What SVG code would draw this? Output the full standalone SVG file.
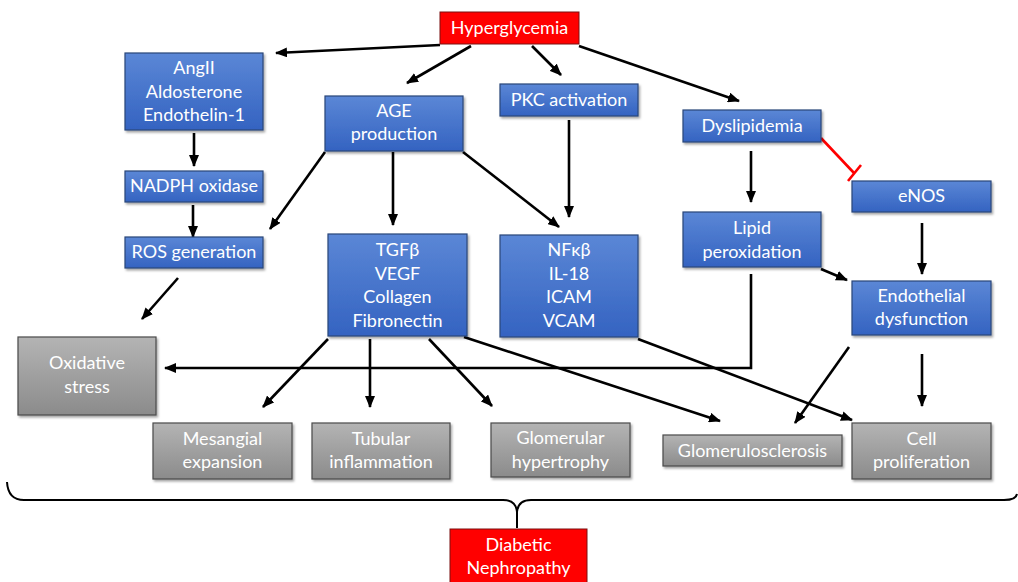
<svg xmlns="http://www.w3.org/2000/svg" width="1018" height="582" viewBox="0 0 1018 582">
<defs>
<linearGradient id="gb" x1="0" y1="0" x2="0" y2="1"><stop offset="0" stop-color="#5b87d6"/><stop offset="1" stop-color="#3463c1"/></linearGradient>
<linearGradient id="gg" x1="0" y1="0" x2="0" y2="1"><stop offset="0" stop-color="#b4b4b4"/><stop offset="1" stop-color="#8b8b8b"/></linearGradient>
<filter id="sh" x="-10%" y="-10%" width="130%" height="140%"><feDropShadow dx="1.5" dy="2" stdDeviation="1.2" flood-color="#000" flood-opacity="0.35"/></filter>
<marker id="ar" markerUnits="userSpaceOnUse" markerWidth="12" markerHeight="10" refX="11" refY="5" orient="auto"><path d="M0,0 L12,5 L0,10 z" fill="#000"/></marker>
</defs>
<style>
.b rect{fill:url(#gb);stroke:#2a4679;stroke-width:1.2;filter:url(#sh)}
.g rect{fill:url(#gg);stroke:#4a4a4a;stroke-width:1.2;filter:url(#sh)}
.r rect{fill:#ff0000;stroke:#7a1010;stroke-width:1}
text{font-family:Lato,"Open Sans","Liberation Sans",sans-serif;font-size:18px;fill:#fff;text-anchor:middle}
.c line,.c path{stroke:#000;stroke-width:2.6;fill:none;marker-end:url(#ar)}
.c .inh{stroke:#ff0000;marker-end:none}
.brace{stroke:#000;stroke-width:2;fill:none}
</style>
<rect width="1018" height="582" fill="#fff"/>
<g class="c" id="connectors">
<line x1="440" y1="45" x2="276" y2="53"/>
<line x1="471" y1="46" x2="407" y2="83"/>
<line x1="532" y1="46" x2="561" y2="75"/>
<line x1="579" y1="46" x2="739" y2="101"/>
<line x1="194" y1="133" x2="194" y2="166"/>
<line x1="193" y1="205" x2="193" y2="237"/>
<line x1="325" y1="152" x2="270" y2="229"/>
<line x1="393" y1="152" x2="393" y2="225"/>
<line x1="463" y1="152" x2="559" y2="227"/>
<line x1="569" y1="120" x2="569" y2="217"/>
<line x1="178" y1="278" x2="142" y2="319"/>
<line x1="751" y1="151" x2="751" y2="202"/>
<line x1="922" y1="223" x2="922" y2="274"/>
<line x1="821" y1="269" x2="847" y2="280"/>
<path d="M751,274 L751,368 L165,368"/>
<line x1="328" y1="339" x2="263" y2="407"/>
<line x1="370" y1="339" x2="370" y2="407"/>
<line x1="429" y1="339" x2="492" y2="406"/>
<line x1="464" y1="337" x2="720" y2="421"/>
<line x1="638" y1="339" x2="852" y2="420"/>
<line x1="849" y1="347" x2="795" y2="423"/>
<line x1="922" y1="354" x2="922" y2="406"/>
<line class="inh" x1="821" y1="138" x2="854" y2="173"/>
<line class="inh" x1="848" y1="181" x2="861" y2="165"/>
</g>
<path class="brace" d="M7,482 Q8,500 24,500 L503,500 Q516,500 517,512 Q518,500 531,500 L1004,500 Q1016,500 1017,494"/>
<line class="brace" x1="517" y1="510" x2="517" y2="528"/>
<g id="hyperglycemia" class="r"><rect x="440" y="12" width="139" height="32"/><text x="509.5" y="34">Hyperglycemia</text></g>
<g id="angii" class="b"><rect x="125" y="53" width="138" height="77"/><text x="194" y="74">AngII</text><text x="194" y="98">Aldosterone</text><text x="194" y="121">Endothelin-1</text></g>
<g id="nadph" class="b"><rect x="125" y="171" width="138" height="31"/><text x="194" y="192">NADPH oxidase</text></g>
<g id="ros" class="b"><rect x="125" y="237" width="138" height="31"/><text x="194" y="258">ROS generation</text></g>
<g id="age" class="b"><rect x="325" y="96" width="138" height="55"/><text x="394" y="117">AGE</text><text x="394" y="140">production</text></g>
<g id="pkc" class="b"><rect x="500" y="84" width="138" height="32"/><text x="569" y="106">PKC activation</text></g>
<g id="dyslipidemia" class="b"><rect x="683" y="110" width="138" height="32"/><text x="752" y="132">Dyslipidemia</text></g>
<g id="enos" class="b"><rect x="852" y="181" width="139" height="31"/><text x="921.5" y="202">eNOS</text></g>
<g id="lipid" class="b"><rect x="683" y="212" width="138" height="55"/><text x="752" y="234">Lipid</text><text x="752" y="258">peroxidation</text></g>
<g id="tgfb" class="b"><rect x="328" y="234" width="139" height="102"/><text x="397.5" y="256">TGFβ</text><text x="397.5" y="280">VEGF</text><text x="397.5" y="303">Collagen</text><text x="397.5" y="327">Fibronectin</text></g>
<g id="nfkb" class="b"><rect x="500" y="235" width="138" height="102"/><text x="569" y="256">NFκβ</text><text x="569" y="280">IL-18</text><text x="569" y="303">ICAM</text><text x="569" y="327">VCAM</text></g>
<g id="endothelial" class="b"><rect x="852" y="281" width="139" height="54"/><text x="921.5" y="302">Endothelial</text><text x="921.5" y="325">dysfunction</text></g>
<g id="oxidative" class="g"><rect x="18" y="337" width="138" height="78"/><text x="87" y="369">Oxidative</text><text x="87" y="393">stress</text></g>
<g id="mesangial" class="g"><rect x="153" y="423" width="139" height="56"/><text x="222.5" y="445">Mesangial</text><text x="222.5" y="468">expansion</text></g>
<g id="tubular" class="g"><rect x="312" y="423" width="138" height="56"/><text x="381" y="445">Tubular</text><text x="381" y="468">inflammation</text></g>
<g id="glomerular" class="g"><rect x="491" y="423" width="139" height="54"/><text x="560.5" y="444">Glomerular</text><text x="560.5" y="468">hypertrophy</text></g>
<g id="glomerulosclerosis" class="g"><rect x="663" y="435" width="179" height="31"/><text x="752.5" y="457">Glomerulosclerosis</text></g>
<g id="cellprolif" class="g"><rect x="852" y="423" width="139" height="56"/><text x="921.5" y="445">Cell</text><text x="921.5" y="468">proliferation</text></g>
<g id="nephropathy" class="r"><rect x="450" y="529" width="137" height="60"/><text x="518.5" y="551">Diabetic</text><text x="518.5" y="574">Nephropathy</text></g>
</svg>
